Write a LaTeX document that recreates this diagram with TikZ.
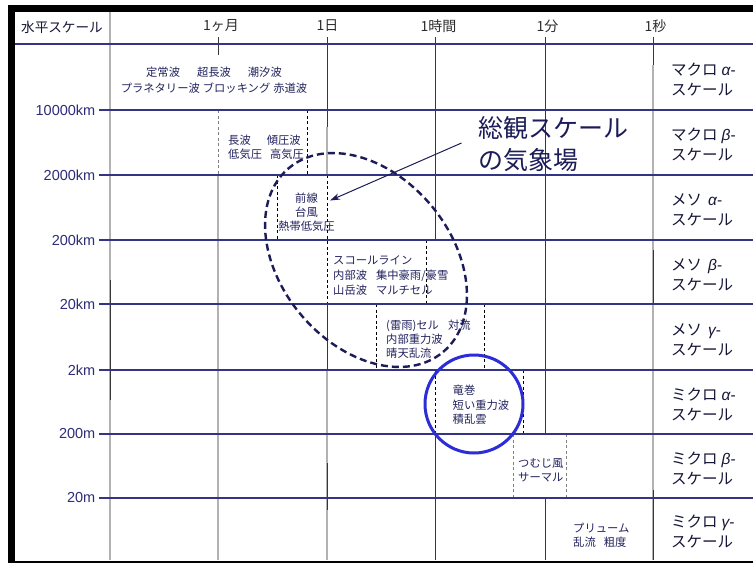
\documentclass[tikz,border=0pt]{standalone}
\usepackage{fontspec}
\setmainfont{Noto Sans CJK JP}
\newfontfamily\lat{Liberation Sans}
\usetikzlibrary{arrows.meta}
\definecolor{navyline}{RGB}{52,52,135}
\definecolor{txt}{RGB}{35,35,95}
\definecolor{kmc}{RGB}{45,45,120}
\definecolor{hdr}{RGB}{45,45,45}
\definecolor{ellc}{RGB}{28,28,88}
\definecolor{circc}{RGB}{45,45,215}
\definecolor{gryl}{RGB}{178,178,178}
\definecolor{drkl}{RGB}{55,55,55}
\definecolor{rlab}{RGB}{22,22,55}
\tikzset{
  gline/.style={draw=gryl, line width=1.5pt},
  dline/.style={draw=drkl, line width=1pt},
  dsh/.style={draw=black, line width=0.8pt, dash pattern=on 3pt off 2.5pt},
  dshg/.style={draw=gray, line width=0.9pt, dash pattern=on 3pt off 2.5pt},
  hline/.style={draw=navyline, line width=1.2pt},
  sm/.style={font=\fontsize{11.3}{14}\selectfont, text=txt, inner sep=0pt},
  hd/.style={font=\fontsize{14}{16}\selectfont, text=hdr, inner sep=0pt},
  km/.style={font=\lat\fontsize{14.5}{17}\selectfont, text=kmc, inner sep=0pt, anchor=east},
  rl/.style={font=\fontsize{15.5}{20}\selectfont, text=rlab, inner sep=0pt, anchor=west, align=left},
  ellst/.style={draw=ellc, line width=2.4pt, dash pattern=on 7pt off 4pt},
  circst/.style={draw=circc, line width=3pt},
  arrowst/.style={draw=ellc, line width=1pt, -{Stealth[length=10pt,width=6.5pt]}},
}
\newcommand{\gk}[1]{{\lat\itshape #1}{\lat -}}
\begin{document}
\begin{tikzpicture}[x=1pt,y=-1pt]
\useasboundingbox (0,0) rectangle (753,563);
\fill[white] (0,0) rectangle (753,563);

% vertical grid lines
\draw[gline] (110,12) -- (110,560);
\draw[dline] (110,280) -- (110,400);
\draw[dline] (218,37) -- (218,55);
\draw[dshg] (218,110) -- (218,175);
\draw[gline] (218,175) -- (218,560);
\draw[dline] (327,37) -- (327,127);
\draw[gline] (327,127) -- (327,175);
\draw[dsh] (327,175) -- (327,304);
\draw[dline] (327,304) -- (327,370);
\draw[gline] (327,370) -- (327,560);
\draw[dline] (327,463) -- (327,510);
\draw[dline] (435,37) -- (435,240);
\draw[dsh] (435.5,370) -- (435.5,434);
\draw[dline] (435,434) -- (435,560);
\draw[dline] (545,37) -- (545,434);
\draw[dline] (545,498) -- (545,560);
\draw[dline] (653,37) -- (653,65);
\draw[gline] (653,65) -- (653,560);
\draw[dline] (653,250) -- (653,305);
\draw[dline] (653,490) -- (653,560);

% dashed box edges
\draw[dsh] (307,110) -- (307,175);
\draw[dsh] (277,175) -- (277,240);
\draw[dsh] (426,240) -- (426,304);
\draw[dsh] (376.5,304) -- (376.5,370);
\draw[dsh] (484,304) -- (484,370);
\draw[dsh] (523,370) -- (523,434);
\draw[dshg] (513,434) -- (513,498);
\draw[dshg] (566,434) -- (566,498);

% horizontal lines
\draw[hline] (14,44) -- (753,44);
\foreach \yy in {110,175,240,304,370,434,498}
  \draw[hline] (99,\yy) -- (753,\yy);

% frame
\fill[black] (8,5) rectangle (753,12);
\fill[black] (8,5) rectangle (14.5,563);
\fill[black] (8,560.5) rectangle (753,563);

% header
\node[hd, font=\fontsize{13.6}{16}\selectfont, text=rlab, anchor=west] (hs) at (21,27) {水平スケール};
\node[hd] (t1) at (221,26) {1ヶ月};
\node[hd] (t2) at (327.5,26) {1日};
\node[hd] (t3) at (438.5,26) {1時間};
\node[hd] (t4) at (547.5,26) {1分};
\node[hd] (t5) at (655.5,26) {1秒};

% km labels
\node[km] (k1) at (95.5,110) {10000km};
\node[km] (k2) at (95.5,175) {2000km};
\node[km] (k3) at (95.5,240) {200km};
\node[km] (k4) at (95.5,304) {20km};
\node[km] (k5) at (95.5,370) {2km};
\node[km] (k6) at (95.5,434) {200m};
\node[km] (k7) at (95.5,498) {20m};

% right labels
\node[rl] (r1) at (671,79.5) {マクロ\hspace{4pt}\gk{α}\\スケール};
\node[rl] (r2) at (671,145) {マクロ\hspace{4pt}\gk{β}\\スケール};
\node[rl] (r3) at (671,210) {メソ\hspace{6pt}\gk{α}\\スケール};
\node[rl] (r4) at (671,274.5) {メソ\hspace{6pt}\gk{β}\\スケール};
\node[rl] (r5) at (671,339.5) {メソ\hspace{6pt}\gk{γ}\\スケール};
\node[rl] (r6) at (671,404.5) {ミクロ\hspace{4pt}\gk{α}\\スケール};
\node[rl] (r7) at (671,468.5) {ミクロ\hspace{4pt}\gk{β}\\スケール};
\node[rl] (r8) at (671,532) {ミクロ\hspace{4pt}\gk{γ}\\スケール};

% phenomena texts
\node[sm, font=\fontsize{11.3}{16.5}\selectfont, align=center] (b1) at (214,80)
  {定常波\hspace{17pt}超長波\hspace{17pt}潮汐波\\プラネタリー波\hspace{3pt}ブロッキング\hspace{3pt}赤道波};
\node[sm, font=\fontsize{11.3}{13.8}\selectfont, align=left, anchor=west] (b2) at (228,147)
  {長波\hspace{16pt}傾圧波\\低気圧\hspace{8pt}高気圧};
\node[sm, align=center] (b3) at (306.5,212) {前線\\台風\\熱帯低気圧};
\node[sm, font=\fontsize{11.3}{14.6}\selectfont, align=left, anchor=west] (b4) at (333,275.5)
  {スコールライン\\内部波\hspace{9pt}集中豪雨/豪雪\\山岳波\hspace{9pt}マルチセル};
\node[sm, align=left, anchor=west] (b5) at (386,339)
  {(雷雨)セル\hspace{9pt}対流\\内部重力波\\晴天乱流};
\node[sm, font=\fontsize{11.3}{14.3}\selectfont, align=left, anchor=west] (b6) at (452.5,405)
  {竜巻\\短い重力波\\積乱雲};
\node[sm, align=left, anchor=west] (b7) at (518,470.3) {つむじ風\\サーマル};
\node[sm, font=\fontsize{11.3}{14.4}\selectfont, align=left, anchor=west] (b8) at (573,535.5)
  {プリューム\\乱流\hspace{8pt}粗度};

% synoptic annotation
\node[font=\fontsize{25}{32}\selectfont, text=ellc, inner sep=0pt, align=left, anchor=west] (syn) at (478,144)
  {総観スケール\\の気象場};
\draw[ellst, rotate around={-50:(366,260)}] (366,260) ellipse [x radius=120pt, y radius=85pt];
\coordinate (arrS) at (461.5,143);
\coordinate (arrE) at (330,200.5);
\draw[arrowst] (arrS) -- (arrE);

% blue circle
\draw[circst] (474,404) circle [radius=49pt];
\end{tikzpicture}
\end{document}
